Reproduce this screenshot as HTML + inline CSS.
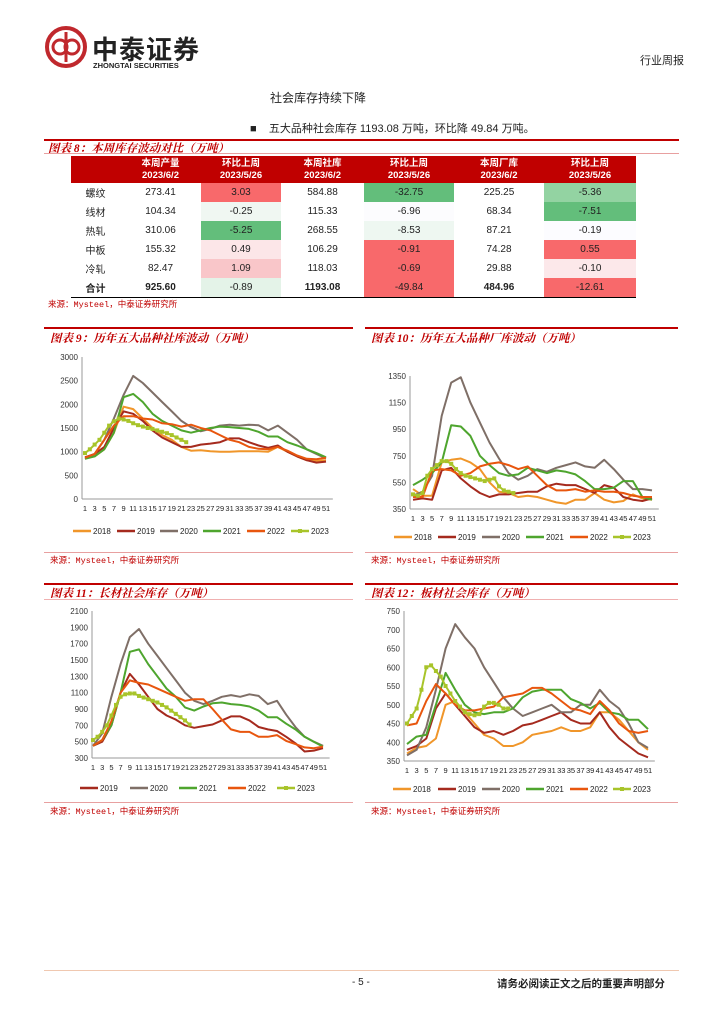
<!DOCTYPE html>
<html><head><meta charset="utf-8">
<style>
body{margin:0;background:#fff;}
#page{position:relative;width:724px;height:1024px;overflow:hidden;font-family:"Liberation Sans","Noto Sans CJK SC",sans-serif;color:#222;}
.abs{position:absolute;white-space:nowrap;}
.ttl{font-family:"Liberation Serif","Noto Serif CJK SC",serif;font-style:italic;font-weight:bold;color:#c00000;font-size:11.5px;}
.src{font-size:8.5px;color:#c00000;font-family:"Liberation Mono","Noto Sans CJK SC",monospace;}
table{border-collapse:collapse;position:absolute;left:71px;top:156px;width:565px;font-size:10px;}
td{height:19px;padding:0;text-align:center;}
th{background:#c00000;color:#fff;font-weight:bold;font-size:9.5px;height:27px;line-height:12px;padding:0;}
tr.tot td{border-bottom:1.5px solid #000;}
svg{position:absolute;left:0;top:0;}
</style></head><body>
<div id="page">
<svg width="724" height="1024">
<circle cx="66" cy="47" r="19" fill="none" stroke="#c0282d" stroke-width="4"/>
<circle cx="60" cy="47" r="7" fill="none" stroke="#c0282d" stroke-width="3"/>
<circle cx="72" cy="47" r="7" fill="none" stroke="#c0282d" stroke-width="3"/>
<line x1="66" y1="32" x2="66" y2="62" stroke="#c0282d" stroke-width="3"/>
</svg>
<div class="abs" style="left:92px;top:30px;font-size:26px;font-weight:bold;color:#222;font-family:'Noto Sans CJK SC',sans-serif;letter-spacing:1px">中泰证券</div>
<div class="abs" style="left:93px;top:61px;font-size:7.5px;font-weight:bold">ZHONGTAI SECURITIES</div>
<div class="abs" style="left:640px;top:52px;font-size:11px">行业周报</div>
<div class="abs" style="left:270px;top:89px;font-size:12px">社会库存持续下降</div>
<div class="abs" style="left:250px;top:120px;font-size:11px">■ &nbsp;&nbsp;&nbsp;五大品种社会库存 1193.08 万吨，环比降 49.84 万吨。</div>

<div class="abs" style="left:44px;top:139px;width:635px;height:2px;background:#c00000"></div>
<div class="abs ttl" style="left:48px;top:140px">图表 8：本周库存波动对比（万吨）</div>
<div class="abs" style="left:44px;top:153px;width:635px;height:1px;background:#e8a0a0"></div>
<table>
<colgroup><col style="width:49px"><col style="width:81px"><col style="width:80px"><col style="width:83px"><col style="width:90px"><col style="width:90px"><col style="width:92px"></colgroup>
<tr><th></th><th>本周产量<br>2023/6/2</th><th>环比上周<br>2023/5/26</th><th>本周社库<br>2023/6/2</th><th>环比上周<br>2023/5/26</th><th>本周厂库<br>2023/6/2</th><th>环比上周<br>2023/5/26</th></tr>
<tr><td>螺纹</td><td>273.41</td><td style="background:#f8696b">3.03</td><td>584.88</td><td style="background:#63be7b">-32.75</td><td>225.25</td><td style="background:#93d3a2">-5.36</td></tr>
<tr><td>线材</td><td>104.34</td><td style="background:#f0f7f2">-0.25</td><td>115.33</td><td style="background:#fcfcfe">-6.96</td><td>68.34</td><td style="background:#63be7b">-7.51</td></tr>
<tr><td>热轧</td><td>310.06</td><td style="background:#63be7b">-5.25</td><td>268.55</td><td style="background:#eef7f1">-8.53</td><td>87.21</td><td style="background:#fcfcff">-0.19</td></tr>
<tr><td>中板</td><td>155.32</td><td style="background:#fce6e8">0.49</td><td>106.29</td><td style="background:#f8696b">-0.91</td><td>74.28</td><td style="background:#f8696b">0.55</td></tr>
<tr><td>冷轧</td><td>82.47</td><td style="background:#f9c6c9">1.09</td><td>118.03</td><td style="background:#f8696b">-0.69</td><td>29.88</td><td style="background:#fce8ea">-0.10</td></tr>
<tr class="tot"><td><b>合计</b></td><td><b>925.60</b></td><td style="background:#e4f3e8">-0.89</td><td><b>1193.08</b></td><td style="background:#f8696b">-49.84</td><td><b>484.96</b></td><td style="background:#f8696b">-12.61</td></tr>
</table>
<div class="abs src" style="left:48px;top:298px">来源：Mysteel，中泰证券研究所</div>

<div class="abs" style="left:44px;top:327px;width:309px;height:2px;background:#c00000"></div>
<div class="abs" style="left:365px;top:327px;width:313px;height:2px;background:#c00000"></div>
<div class="abs ttl" style="left:50px;top:330px">图表 9：历年五大品种社库波动（万吨）</div>
<div class="abs ttl" style="left:371px;top:330px">图表 10：历年五大品种厂库波动（万吨）</div>
<div class="abs" style="left:44px;top:552px;width:309px;height:1px;background:#e8a0a0"></div>
<div class="abs" style="left:365px;top:552px;width:313px;height:1px;background:#e8a0a0"></div>
<div class="abs src" style="left:50px;top:554px">来源：Mysteel，中泰证券研究所</div>
<div class="abs src" style="left:371px;top:554px">来源：Mysteel，中泰证券研究所</div>

<div class="abs" style="left:44px;top:583px;width:309px;height:2px;background:#c00000"></div>
<div class="abs" style="left:365px;top:583px;width:313px;height:2px;background:#c00000"></div>
<div class="abs ttl" style="left:50px;top:585px">图表 11：长材社会库存（万吨）</div>
<div class="abs ttl" style="left:371px;top:585px">图表 12：板材社会库存（万吨）</div>
<div class="abs" style="left:44px;top:599px;width:309px;height:1px;background:#f0b0b0"></div>
<div class="abs" style="left:365px;top:599px;width:313px;height:1px;background:#f0b0b0"></div>
<div class="abs" style="left:44px;top:802px;width:309px;height:1px;background:#e8a0a0"></div>
<div class="abs" style="left:365px;top:802px;width:313px;height:1px;background:#e8a0a0"></div>
<div class="abs src" style="left:50px;top:805px">来源：Mysteel，中泰证券研究所</div>
<div class="abs src" style="left:371px;top:805px">来源：Mysteel，中泰证券研究所</div>

<div class="abs" style="left:44px;top:970px;width:635px;height:1px;background:#f0c8b0"></div>
<div class="abs" style="left:352px;top:977px;font-size:10px">- 5 -</div>
<div class="abs" style="left:497px;top:976px;font-size:10.5px;font-weight:bold">请务必阅读正文之后的重要声明部分</div>

<svg id="charts" width="724" height="1024"></svg>
</div>
<script>
const oddWeeks=[1,3,5,7,9,11,13,15,17,19,21,23,25,27,29,31,33,35,37,39,41,43,45,47,49,51];
const weeks23=[1,2,3,4,5,6,7,8,9,10,11,12,13,14,15,16,17,18,19,20,21,22];
const xTickLabels=["1","3","5","7","9","11","13","15","17","19","21","23","25","27","29","31","33","35","37","39","41","43","45","47","49","51"];
// chart 9
const c9Ticks=[0,500,1000,1500,2000,2500,3000];
const c9_2018=[880,900,1050,1400,1950,1900,1700,1500,1350,1250,1100,1020,1030,1010,1000,1000,1010,1010,1010,1000,1100,1000,900,820,800,820];
const c9_2019=[880,950,1100,1500,1850,1800,1650,1450,1300,1200,1100,1100,1150,1170,1200,1280,1280,1200,1130,1080,1130,1000,900,820,770,790];
const c9_2020=[850,950,1250,1700,2200,2600,2450,2250,2050,1850,1650,1520,1430,1480,1550,1570,1550,1570,1560,1450,1550,1400,1250,1050,950,860];
const c9_2021=[850,900,1050,1400,2150,2220,2050,1800,1650,1550,1450,1400,1450,1500,1530,1520,1500,1480,1420,1320,1320,1200,1130,1050,970,880];
const c9_2022=[870,950,1250,1550,1750,1750,1700,1680,1600,1580,1530,1570,1500,1450,1350,1250,1200,1100,1060,1050,1100,1020,920,850,840,870];
const c9_2023=[970,1050,1150,1250,1400,1550,1640,1700,1680,1650,1600,1560,1530,1500,1480,1450,1420,1390,1350,1300,1250,1200];
// chart 10
const c10Ticks=[350,550,750,950,1150,1350];
const c10_2018=[500,450,450,700,720,730,700,650,550,480,470,440,450,440,420,400,390,420,420,470,420,400,410,460,430,420];
const c10_2019=[420,430,420,640,660,580,520,470,440,460,460,470,480,480,520,540,530,530,500,470,530,510,440,420,410,430];
const c10_2020=[450,480,600,1050,1300,1340,1150,1000,850,730,620,570,600,650,630,660,680,700,670,660,720,650,570,500,500,490];
const c10_2021=[530,570,620,700,980,970,900,750,680,620,600,610,660,640,620,640,630,610,560,500,500,510,560,560,440,420];
const c10_2022=[440,440,640,650,640,600,620,670,690,700,680,650,670,600,530,490,490,500,480,490,480,480,470,450,440,440];
const c10_2023=[460,450,470,600,650,680,710,710,690,650,620,600,590,580,570,560,570,580,520,490,480,470];
// chart 11
const c11Ticks=[300,500,700,900,1100,1300,1500,1700,1900,2100];
const c11_2019=[450,500,700,1100,1330,1200,1050,900,820,770,700,670,690,710,760,810,810,760,680,650,630,560,480,380,390,420];
const c11_2020=[450,600,1050,1450,1780,1880,1700,1550,1400,1250,1100,1000,960,1000,1050,1070,1050,1080,1060,960,1000,830,680,560,500,450];
const c11_2021=[450,520,700,1100,1600,1630,1450,1300,1150,1050,920,880,930,970,980,960,950,930,880,800,800,720,650,560,500,440];
const c11_2022=[450,520,750,1100,1250,1220,1200,1150,1100,1050,1000,1020,1020,900,770,650,620,620,560,560,580,510,470,430,420,440];
const c11_2023=[520,560,620,700,820,950,1050,1080,1090,1090,1060,1040,1020,1000,980,950,920,880,840,800,760,710];
// chart 12
const c12Ticks=[350,400,450,500,550,600,650,700,750];
const c12_2018=[370,385,390,410,500,510,480,450,420,410,390,390,400,420,425,430,440,430,430,440,480,480,460,430,400,380];
const c12_2019=[380,390,410,490,530,500,470,440,425,430,420,430,445,450,460,470,480,460,450,450,480,440,410,390,370,360];
const c12_2020=[365,380,440,540,650,715,680,650,600,560,520,490,470,480,490,500,480,480,500,500,540,510,490,450,400,385];
const c12_2021=[395,415,420,500,585,540,500,480,475,480,480,490,520,535,540,540,540,515,505,490,505,480,475,460,460,435];
const c12_2022=[445,450,510,555,530,500,485,485,490,495,520,525,530,545,545,530,510,490,485,475,510,485,450,430,425,430];
const c12_2023=[450,470,490,540,600,605,590,575,550,530,510,495,480,475,472,475,495,505,505,500,490,490];

const COL={"2018":"#f0962a","2019":"#a52a1e","2020":"#7f6f67","2021":"#4ea52e","2022":"#e8560e","2023":"#a8c42a"};
const NS="http://www.w3.org/2000/svg";
const svg=document.getElementById('charts');
function mk(tag,attrs,parent){const e=document.createElementNS(NS,tag);for(const k in attrs)e.setAttribute(k,attrs[k]);(parent||svg).appendChild(e);return e;}

function drawChart(id,c,series){
  const g=mk('g',{});
  
  
  const vmin=c.ticks[0],vmax=c.ticks[c.ticks.length-1];
  const X=w=>c.x1+(w-1)*(c.x51-c.x1)/50;
  const Y=v=>c.yB-(v-vmin)/(vmax-vmin)*(c.yB-c.yT);
  mk('line',{x1:c.ax,y1:c.yT,x2:c.ax,y2:c.yB,stroke:'#999','stroke-width':1},g);
  mk('line',{x1:c.ax,y1:c.yB,x2:X(52)+2,y2:c.yB,stroke:'#999','stroke-width':1},g);
  c.ticks.forEach(t=>{
    const tx=mk('text',{x:c.ax-4,y:Y(t)+3,'text-anchor':'end','font-size':8,fill:'#333','font-family':'Liberation Sans'},g);
    tx.textContent=t;
    
    
  });
  xTickLabels.forEach((l,i)=>{
    const tx=mk('text',{x:X(oddWeeks[i]),y:c.yB+12,'text-anchor':'middle','font-size':7.5,fill:'#222','font-family':'Liberation Sans'},g);
    tx.textContent=l;
    
    
  });
  series.forEach((s,si)=>{
    const wk=s.year==='2023'?weeks23:oddWeeks;
    const pts=s.data.map((v,i)=>X(wk[i]).toFixed(1)+','+Y(v).toFixed(1)).join(' ');
    const pl=mk('polyline',{points:pts,fill:'none',stroke:COL[s.year],'stroke-width':2,'stroke-linejoin':'round'},g);
    
    
    if(s.year==='2023'){s.data.forEach((v,i)=>{const m=mk('rect',{x:X(wk[i])-2,y:Y(v)-2,width:4,height:4,fill:COL[s.year]},g);
      
      });}
    const lx=c.legX[si];
    const ll=mk('line',{x1:lx,y1:c.legY,x2:lx+18,y2:c.legY,stroke:COL[s.year],'stroke-width':2.5},g);
    
    
    if(s.year==='2023')mk('rect',{x:lx+7,y:c.legY-2,width:4,height:4,fill:COL[s.year]},g);
    const lt=mk('text',{x:lx+20,y:c.legY+3,'font-size':8,fill:'#222','font-family':'Liberation Sans'},g);
    lt.textContent=s.year;
    
    
  });
}
drawChart('chart9-social-inventory',{ticks:c9Ticks,x1:85,x51:326,ax:82,yT:357,yB:499,legY:531,legX:[73,117,160,203,247,291]},
 [{year:'2018',data:c9_2018},{year:'2019',data:c9_2019},{year:'2020',data:c9_2020},{year:'2021',data:c9_2021},{year:'2022',data:c9_2022},{year:'2023',data:c9_2023}]);
drawChart('chart10-factory-inventory',{ticks:c10Ticks,x1:413,x51:652,ax:410,yT:376,yB:509,legY:537,legX:[394,438,482,526,570,613]},
 [{year:'2018',data:c10_2018},{year:'2019',data:c10_2019},{year:'2020',data:c10_2020},{year:'2021',data:c10_2021},{year:'2022',data:c10_2022},{year:'2023',data:c10_2023}]);
drawChart('chart11-long-products',{ticks:c11Ticks,x1:93,x51:323,ax:92,yT:611,yB:758,legY:788,legX:[80,130,179,228,277]},
 [{year:'2019',data:c11_2019},{year:'2020',data:c11_2020},{year:'2021',data:c11_2021},{year:'2022',data:c11_2022},{year:'2023',data:c11_2023}]);
drawChart('chart12-flat-products',{ticks:c12Ticks,x1:407,x51:648,ax:404,yT:611,yB:761,legY:789,legX:[393,438,482,526,570,613]},
 [{year:'2018',data:c12_2018},{year:'2019',data:c12_2019},{year:'2020',data:c12_2020},{year:'2021',data:c12_2021},{year:'2022',data:c12_2022},{year:'2023',data:c12_2023}]);
</script>
</body></html>
